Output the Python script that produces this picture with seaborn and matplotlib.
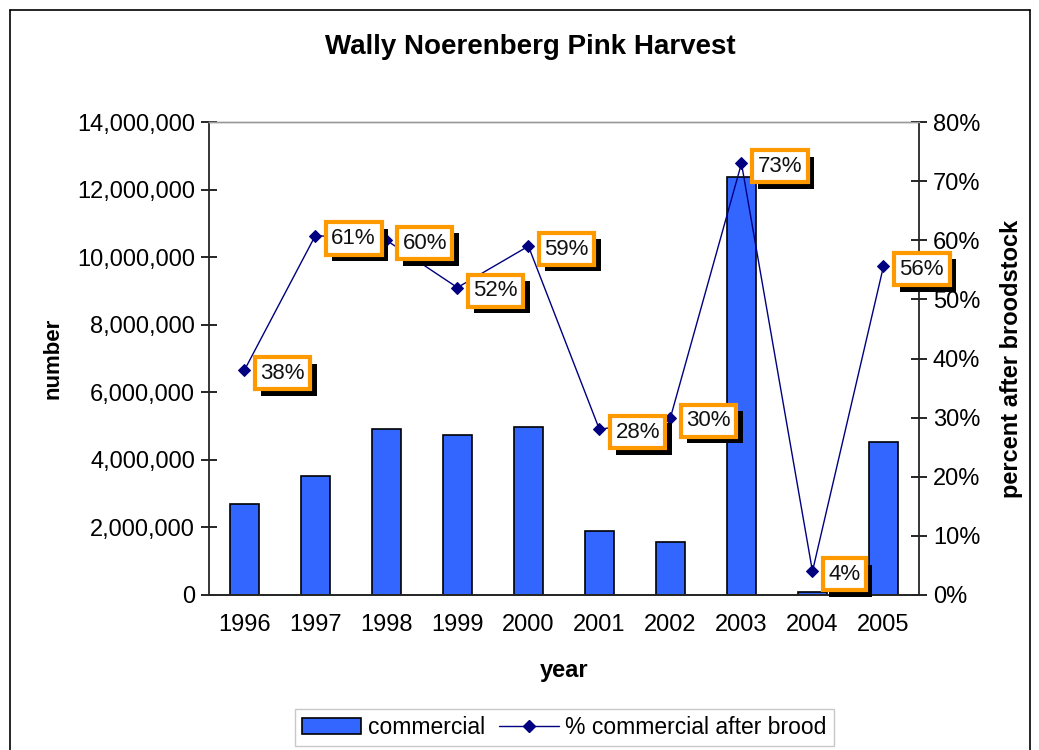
import numpy as np
import pandas as pd
import seaborn as sns
import matplotlib.pyplot as plt
import matplotlib.patheffects as pe
from matplotlib.lines import Line2D
from matplotlib.patches import Patch
from matplotlib.ticker import FuncFormatter, FixedLocator

# Harvest data
years = ['1996', '1997', '1998', '1999', '2000', '2001', '2002', '2003', '2004', '2005']
commercial = [2690000, 3520000, 4910000, 4730000, 4970000, 1890000, 1570000, 12370000, 100000, 4530000]
pct_after_brood = [0.38, 0.608, 0.60, 0.52, 0.59, 0.28, 0.30, 0.73, 0.04, 0.556]

bar_color = '#3366FF'
line_color = '#000080'
box_edge = '#FF9900'

sns.set_style('white')
plt.rcParams['font.family'] = ['Liberation Sans', 'DejaVu Sans']
plt.rcParams['text.color'] = 'black'
plt.rcParams['axes.labelcolor'] = 'black'
plt.rcParams['xtick.color'] = 'black'
plt.rcParams['ytick.color'] = 'black'

df = pd.DataFrame({'year': years, 'commercial': commercial, 'pct': pct_after_brood})

fig = plt.figure(figsize=(10.39, 7.5), dpi=100)
ax = fig.add_axes([0.201, 0.2067, 0.6835, 0.6306])

sns.barplot(data=df, x='year', y='commercial', ax=ax, color=bar_color,
            width=0.41, edgecolor='black', linewidth=1.2, saturation=1)
ax.set_ylim(0, 14000000)
ax.set_xlim(-0.5, len(years) - 0.5)
ax.yaxis.set_major_locator(FixedLocator(np.arange(0, 14000001, 2000000)))
ax.yaxis.set_major_formatter(FuncFormatter(lambda v, p: f'{int(v):,}'))

ax2 = ax.twinx()
sns.pointplot(data=df, x='year', y='pct', ax=ax2, color=line_color,
              markers='D', linestyles='-', markersize=6, linewidth=1)
ax2.set_ylim(0, 0.8)
ax2.set_xlim(-0.5, len(years) - 0.5)
ax2.yaxis.set_major_locator(FixedLocator(np.arange(0, 0.81, 0.1)))
ax2.yaxis.set_major_formatter(FuncFormatter(lambda v, p: f'{v * 100:.0f}%'))

# data labels: white box, orange border, black drop shadow
for i, v in enumerate(pct_after_brood):
    t = ax2.annotate(f'{v * 100:.0f}%', xy=(i, v), xytext=(16, -3), textcoords='offset pixels',
                     ha='left', va='center', fontsize=16, color='#111111', zorder=6,
                     bbox=dict(boxstyle='square,pad=0.25', fc='white', ec=box_edge, lw=3))
    t.get_bbox_patch().set_path_effects([
        pe.SimplePatchShadow(offset=(4.5, -4.5), shadow_rgbFace='black', alpha=1),
        pe.Normal()])

# spines and ticks
for a in (ax, ax2):
    a.spines['top'].set_color('#999999')
    a.spines['top'].set_linewidth(1)
    a.spines['left'].set_linewidth(1.3)
    a.spines['right'].set_linewidth(1.3)
    a.spines['bottom'].set_linewidth(1.3)
    a.set_xlabel('')
    a.set_ylabel('')
ax.spines['right'].set_visible(False)
ax2.spines['left'].set_visible(False)

ax.tick_params(axis='y', direction='inout', length=12, width=1.2, labelsize=17, pad=4)
ax2.tick_params(axis='y', direction='inout', length=12, width=1.2, labelsize=17, pad=4)
ax.set_xticks(range(len(years)))
ax.set_xticklabels(years)
ax.tick_params(axis='x', which='major', length=0, labelsize=17, pad=14)
ax.set_xticks(np.arange(-0.5, len(years)), minor=True)
ax.tick_params(axis='x', which='minor', direction='out', length=9, width=1.2)
ax2.tick_params(axis='x', bottom=False, labelbottom=False)

ax.set_xlabel('year', fontsize=17, fontweight='bold', labelpad=16)
ax.set_ylabel('number', fontsize=16, fontweight='bold', labelpad=10)
ax2.set_ylabel('percent after broodstock', fontsize=17, fontweight='bold', labelpad=14)

fig.text(0.51, 0.937, 'Wally Noerenberg Pink Harvest', ha='center', va='center',
         fontsize=20, fontweight='bold')

handles = [Patch(facecolor=bar_color, edgecolor='black', linewidth=1.2),
           Line2D([], [], color=line_color, marker='D', markersize=6, lw=1)]
leg = fig.legend(handles, ['commercial', '% commercial after brood'], loc='center',
                 bbox_to_anchor=(0.543, 0.03), ncol=2, fontsize=16.5, frameon=True,
                 fancybox=False, edgecolor='#BBBBBB', handlelength=2.6, handletextpad=0.3,
                 columnspacing=0.6, borderpad=0.3)

# outer chart frame
for xs, ys in [([0.01, 0.01], [0.0, 0.987]), ([0.01, 0.991], [0.987, 0.987]),
               ([0.991, 0.991], [0.987, 0.0])]:
    fig.add_artist(Line2D(xs, ys, color='black', lw=1.2, transform=fig.transFigure))

fig.savefig('out.png', dpi=100)
